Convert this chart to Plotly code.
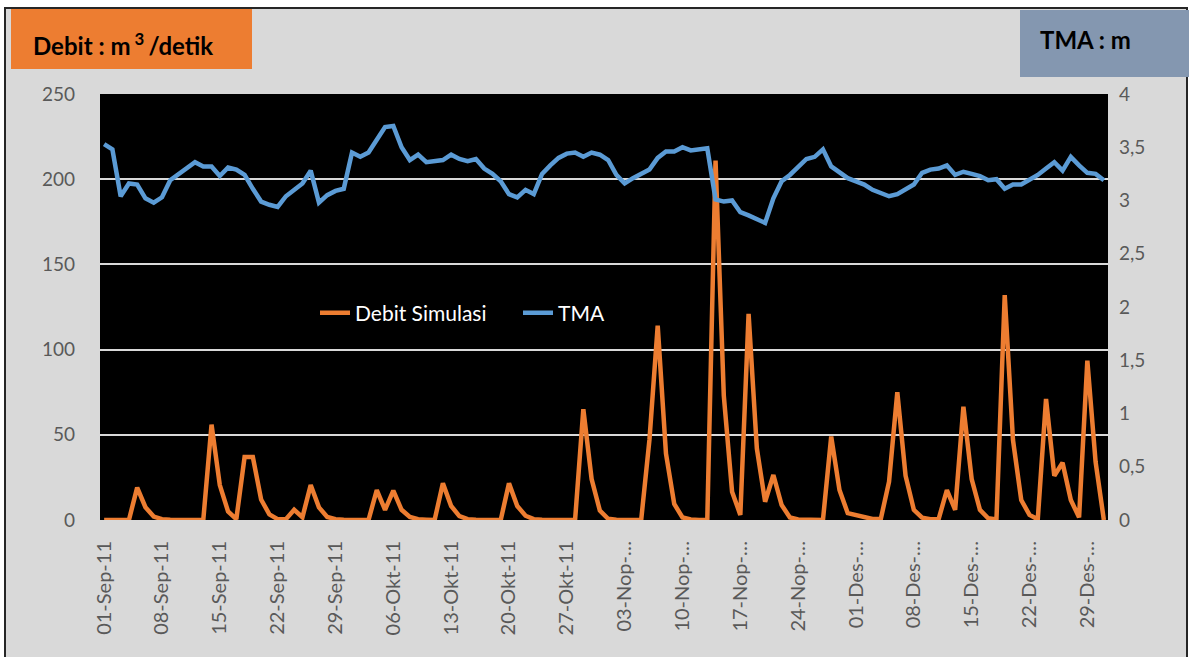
import pandas as pd
import plotly.graph_objects as go

# ---- data ----
MONTHS_ID = {9: "Sep", 10: "Okt", 11: "Nop", 12: "Des"}
dates = pd.date_range("2011-09-01", "2011-12-31", freq="D")
categories = [f"{d.day:02d}-{MONTHS_ID[d.month]}-{d.strftime('%y')}" for d in dates]

debit_simulasi = [
    0, 0, 0, 0, 19, 7.5, 2, 0.5, 0.2, 0, 0, 0, 0, 56, 20.5, 5, 0.5, 37, 37, 12,
    3.3, 0.5, 0.5, 6, 1.6, 20.5, 7.4, 1.8, 0.5, 0.2, 0, 0, 0, 17.6, 6, 17.2, 6, 1.8, 0.5, 0.2,
    0, 21.5, 8.2, 2.3, 0.5, 0.2, 0, 0, 0, 21.5, 8.2, 2.5, 0.5, 0.2, 0, 0, 0, 0, 65, 24,
    5.5, 0.7, 0.2, 0, 0, 0, 47, 114, 39, 9.4, 1.5, 0.3, 0, 0, 211, 73, 16.6, 3, 121, 42,
    10.7, 26.4, 8.8, 1.5, 0.3, 0, 0, 0, 49, 17.6, 4, 3, 1.4, 0.6, 0.6, 22.5, 75, 26, 6, 1.4,
    0.5, 0.5, 17.6, 6, 66.5, 24, 6, 1, 0.3, 132, 47, 11.7, 3, 0.4, 71, 26, 33.6, 11.7, 1.6, 93.5,
    34, 0,
]

tma = [
    3.53, 3.48, 3.04, 3.16, 3.15, 3.02, 2.98, 3.03, 3.19, 3.25, 3.31, 3.36, 3.32, 3.32, 3.23, 3.31,
    3.29, 3.24, 3.11, 2.99, 2.96, 2.94, 3.04, 3.10, 3.16, 3.28, 2.98, 3.05, 3.09, 3.11, 3.45, 3.41,
    3.45, 3.57, 3.69, 3.70, 3.50, 3.38, 3.43, 3.36, 3.37, 3.38, 3.43, 3.39, 3.37, 3.39, 3.30, 3.25,
    3.18, 3.06, 3.03, 3.10, 3.06, 3.25, 3.33, 3.40, 3.44, 3.45, 3.41, 3.45, 3.43, 3.38, 3.24, 3.16,
    3.21, 3.25, 3.29, 3.40, 3.46, 3.46, 3.50, 3.47, 3.48, 3.49, 3.01, 2.99, 3.00, 2.89, 2.86, 2.82,
    2.79, 3.02, 3.18, 3.24, 3.32, 3.39, 3.41, 3.48, 3.32, 3.27, 3.21, 3.18, 3.15, 3.10, 3.07, 3.04,
    3.06, 3.10, 3.15, 3.26, 3.29, 3.30, 3.33, 3.24, 3.27, 3.25, 3.23, 3.19, 3.20, 3.11, 3.15, 3.15,
    3.19, 3.24, 3.30, 3.36, 3.28, 3.41, 3.33, 3.26, 3.25, 3.19,
]

tick_labels = [
    "01-Sep-11", "08-Sep-11", "15-Sep-11", "22-Sep-11", "29-Sep-11", "06-Okt-11",
    "13-Okt-11", "20-Okt-11", "27-Okt-11", "03-Nop-…", "10-Nop-…", "17-Nop-…",
    "24-Nop-…", "01-Des-…", "08-Des-…", "15-Des-…", "22-Des-…", "29-Des-…",
]
tick_positions = categories[::7]

# ---- figure ----
FONT = "Lato, 'Open Sans', sans-serif"
ORANGE = "#ED7D31"
BLUE = "#5B9BD5"
TICK_COLOR = "#595959"

fig = go.Figure()
fig.add_trace(go.Scatter(
    x=categories, y=debit_simulasi, name="Debit Simulasi", mode="lines",
    line=dict(color=ORANGE, width=4.5), yaxis="y",
))
fig.add_trace(go.Scatter(
    x=categories, y=tma, name="TMA", mode="lines",
    line=dict(color=BLUE, width=4.5), yaxis="y2",
))

L, R, T, B = 100, 82, 94, 137
W, H = 1190, 657
pw, ph = W - L - R, H - T - B


def px_x(X):
    return (X - L) / pw


def px_y(Y):
    return (H - B - Y) / ph


shapes = [
    # grey chart area with dark border
    dict(type="rect", xref="paper", yref="paper", layer="below",
         x0=px_x(5), x1=px_x(1187), y0=px_y(668), y1=px_y(8),
         fillcolor="#D9D9D9", line=dict(color="#262626", width=2)),
    # black plot area
    dict(type="rect", xref="paper", yref="paper", layer="below",
         x0=0, x1=1, y0=0, y1=1, fillcolor="black", line=dict(width=0)),
    # orange unit box
    dict(type="rect", xref="paper", yref="paper", layer="above",
         x0=px_x(11), x1=px_x(252), y0=px_y(69), y1=px_y(9),
         fillcolor=ORANGE, line=dict(width=0)),
    # blue-grey unit box
    dict(type="rect", xref="paper", yref="paper", layer="above",
         x0=px_x(1020), x1=px_x(1189), y0=px_y(77), y1=px_y(10),
         fillcolor="#8497B0", line=dict(width=0)),
]

annotations = [
    dict(xref="paper", yref="paper", x=px_x(31), y=px_y(44), xanchor="left", yanchor="middle",
         text="<b>Debit : m<sup> 3 </sup>/detik</b>", showarrow=False,
         font=dict(family=FONT, size=24, color="black")),
    dict(xref="paper", yref="paper", x=px_x(1038), y=px_y(39), xanchor="left", yanchor="middle",
         text="<b>TMA : m</b>", showarrow=False,
         font=dict(family=FONT, size=24, color="black")),
]

fig.update_layout(
    width=W, height=H,
    margin=dict(l=L, r=R, t=T, b=B, pad=0),
    paper_bgcolor="white",
    plot_bgcolor="rgba(0,0,0,0)",
    separators=",.",
    font=dict(family=FONT, color=TICK_COLOR, size=18),
    shapes=shapes,
    annotations=annotations,
    showlegend=True,
    legend=dict(
        orientation="h", x=px_x(315), y=px_y(313), xanchor="left", yanchor="middle",
        bgcolor="rgba(0,0,0,0)", font=dict(family=FONT, size=21, color="white"),
        entrywidth=158, entrywidthmode="pixels", tracegroupgap=0,
    ),
    xaxis=dict(
        type="category", categoryorder="array", categoryarray=categories,
        range=[-0.5, len(categories) - 0.5],
        tickmode="array", tickvals=tick_positions, ticktext=tick_labels,
        tickangle=-90, showgrid=False, zeroline=False, showline=False,
        ticks="", ticklabelstandoff=16,
        tickfont=dict(family=FONT, size=20, color=TICK_COLOR),
    ),
    yaxis=dict(
        range=[0, 250], tickmode="linear", tick0=0, dtick=50,
        showgrid=True, gridcolor="#D9D9D9", gridwidth=2, zeroline=False,
        showline=False, ticks="", ticklabelstandoff=24,
        tickfont=dict(family=FONT, size=19, color=TICK_COLOR),
    ),
    yaxis2=dict(
        range=[0, 4], tickmode="linear", tick0=0, dtick=0.5,
        overlaying="y", side="right", showgrid=False, zeroline=False,
        showline=False, ticks="", ticklabelstandoff=10,
        tickfont=dict(family=FONT, size=19, color=TICK_COLOR),
    ),
)

fig.write_html("out.html", config={"displayModeBar": False},
               post_script="document.body.style.margin='0';")
